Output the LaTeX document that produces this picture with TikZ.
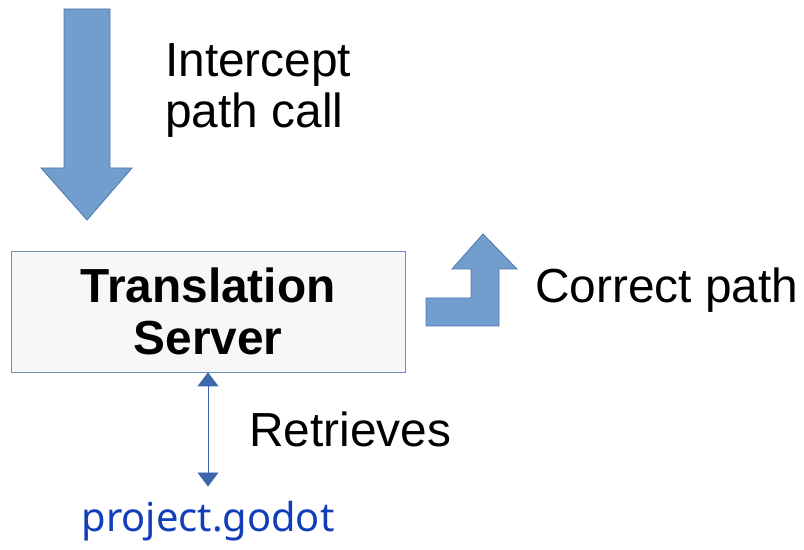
\documentclass[tikz,border=0pt]{standalone}
\usepackage{fontspec}
\setmainfont{Liberation Sans}
\newfontfamily\godotfont{Noto Sans}
\usepackage{tikz}
\usetikzlibrary{arrows.meta,%
                shapes,positioning}
\definecolor{arrowfill}{RGB}{114,158,206}
\definecolor{arrowline}{RGB}{78,118,176}
\definecolor{boxline}{RGB}{108,142,191}
\definecolor{linkblue}{RGB}{60,104,170}
\definecolor{filename}{RGB}{18,62,186}
\tikzstyle{block}=[fill=arrowfill,draw=arrowline,line width=0.8bp,line join=miter]
\tikzstyle{server}=[rectangle,draw=boxline,fill=black!3,line width=0.8bp,minimum width=394bp,minimum height=121bp,align=center,font=\fontsize{48}{52}\selectfont\bfseries]
\tikzstyle{label}=[inner sep=0pt,align=left,font=\fontsize{48}{52}\selectfont]

\begin{document}
\begin{tikzpicture}[>={Triangle[width=21bp,length=14bp]}]
	  \useasboundingbox (0bp,0bp) rectangle (804bp,550bp);
	  \node (srv) at (208bp,238.5bp) [server] {Translation\\Server};
	  \node (intercept) at (165bp,422bp) [label,anchor=base west] {Intercept\\path call};
	  \node (correct) at (535bp,247bp) [label,anchor=base west] {Correct path};
	  \node (retr) at (249bp,103bp) [label,anchor=base west] {Retrieves};
	  \node (proj) at (208bp,19bp) [inner sep=0pt,anchor=base,text=filename,font=\fontsize{40}{48}\selectfont\godotfont] {project.godot};
	  % block arrows
	  \draw [block] (64bp,541bp) -- (110bp,541bp) -- (110bp,382bp) -- (132bp,382bp)
	      -- (87bp,330bp) -- (41bp,382bp) -- (64bp,382bp) -- cycle;
	  \draw [block] (426bp,224bp) -- (499bp,224bp) -- (499bp,281bp) -- (517bp,281bp)
	      -- (483bp,316bp) -- (452bp,281bp) -- (471bp,281bp) -- (471bp,252bp)
	      -- (426bp,252bp) -- cycle;
	  \draw [<->,draw=linkblue,fill=linkblue,line width=0.8bp,shorten >=14bp] (srv.south) -- (proj.north);
    %
    \end{tikzpicture}
\end{document}
